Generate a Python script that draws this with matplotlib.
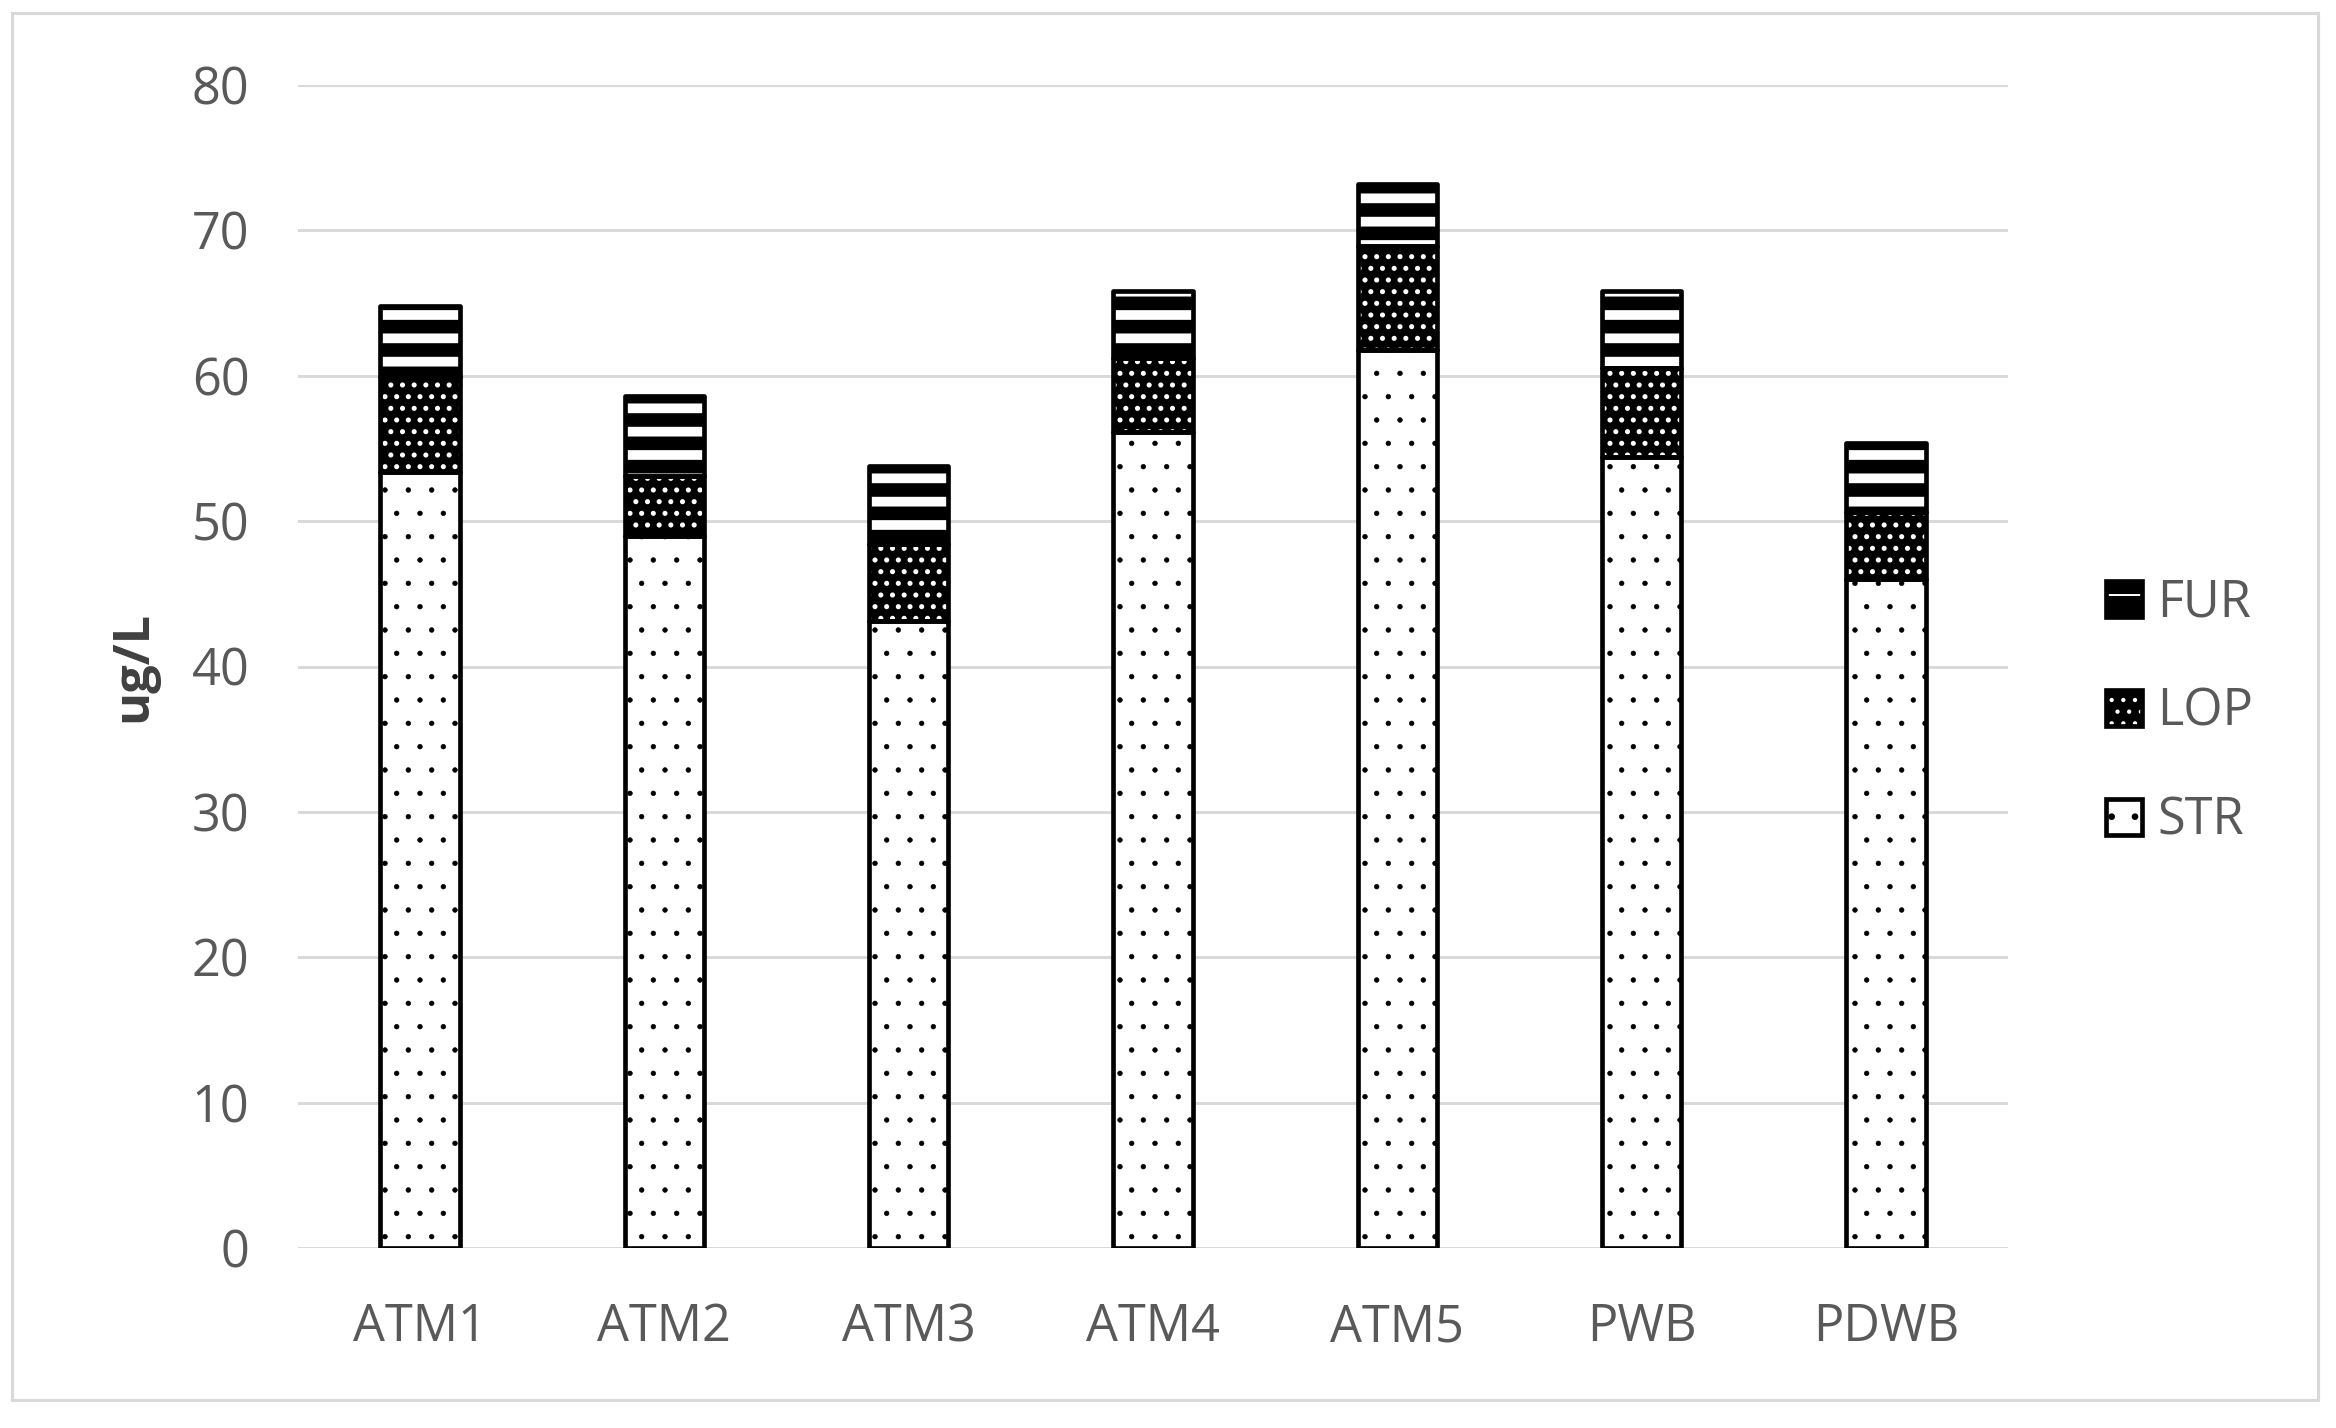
import matplotlib

matplotlib.use("Agg")
import matplotlib.pyplot as plt
from matplotlib.legend_handler import HandlerTuple
from matplotlib.patches import Rectangle

plt.rcParams["font.family"] = ["Open Sans", "DejaVu Sans"]

sites = ["ATM1", "ATM2", "ATM3", "ATM4", "ATM5", "PWB", "PDWB"]
str_vals = [53.4, 49.0, 43.1, 56.1, 61.8, 54.4, 46.0]
lop_vals = [6.5, 4.1, 5.3, 5.1, 7.1, 6.1, 4.6]
fur_vals = [4.9, 5.5, 5.4, 4.6, 4.3, 5.3, 4.8]

DPI = 140
TEXT = "#595959"
GRID = "#d9d9d9"
EDGE_LW = 2.4

# name, values, face, hatch colour, hatch, hatch linewidth
layers = [
    ("STR", str_vals, "white", "black", ".", 0.3),
    ("LOP", lop_vals, "black", "white", "..", 1.4),
    ("FUR", fur_vals, "black", "white", "-", 5.0),
]

fig = plt.figure(figsize=(2336 / DPI, 1428 / DPI), dpi=DPI)
ax = fig.add_axes([298 / 2336, 1 - 1248 / 1428, 1710 / 2336, 1163 / 1428])

x = list(range(len(sites)))
bottom = [0.0] * len(sites)
handles = {}
for name, vals, face, hcol, hatch, hlw in layers:
    with plt.rc_context({"hatch.linewidth": hlw}):
        fill = ax.bar(x, vals, 0.325, bottom=bottom, color=face,
                      edgecolor=hcol, linewidth=0, hatch=hatch, zorder=2)
    for p in fill:
        if hasattr(p, "set_hatch_linewidth"):
            p.set_hatch_linewidth(hlw)
    outline = ax.bar(x, vals, 0.325, bottom=bottom, facecolor="none",
                     edgecolor="black", linewidth=EDGE_LW, zorder=3)
    for p in outline:
        p.set_joinstyle("round")
    with plt.rc_context({"hatch.linewidth": hlw}):
        h_fill = Rectangle((0, 0), 1, 1, facecolor=face, edgecolor=hcol,
                           linewidth=0, hatch=hatch)
    if hasattr(h_fill, "set_hatch_linewidth"):
        h_fill.set_hatch_linewidth(hlw)
    h_line = Rectangle((0, 0), 1, 1, facecolor="none", edgecolor="black",
                       linewidth=EDGE_LW, joinstyle="round")
    handles[name] = (h_fill, h_line)
    bottom = [b + v for b, v in zip(bottom, vals)]

ax.set_xlim(-0.5, len(sites) - 0.5)
ax.set_ylim(0, 80)
ax.set_yticks(range(0, 81, 10))
ax.set_xticks(x)
ax.set_xticklabels(sites)
ax.yaxis.grid(True, color=GRID, linewidth=1.5, zorder=0)
ax.set_axisbelow(True)
for s in ax.spines.values():
    s.set_visible(False)
ax.tick_params(axis="both", length=0, labelsize=26, labelcolor=TEXT)
ax.tick_params(axis="y", pad=25)
ax.tick_params(axis="x", pad=28)

ax.set_ylabel("ug/L", fontsize=26, fontweight="bold", color="#404040")
ax.yaxis.set_label_coords(-0.082, 0.5)

order = ["FUR", "LOP", "STR"]
fig.legend(
    [handles[n] for n in order], order,
    handler_map={tuple: HandlerTuple(ndivide=1, pad=0)},
    loc="center left", bbox_to_anchor=(2106 / 2336, 1 - 712 / 1428),
    frameon=False, fontsize=26, labelcolor=TEXT,
    handlelength=0.72, handleheight=0.72, handletextpad=0.3,
    labelspacing=1.15, borderpad=0, borderaxespad=0,
)

fig.patches.append(Rectangle(
    (12 / 2336, 1 - 1400 / 1428), 2306 / 2336, 1387 / 1428,
    transform=fig.transFigure, fill=False, edgecolor=GRID, linewidth=1.6,
))

fig.savefig("out.png", dpi=DPI, facecolor="white")
